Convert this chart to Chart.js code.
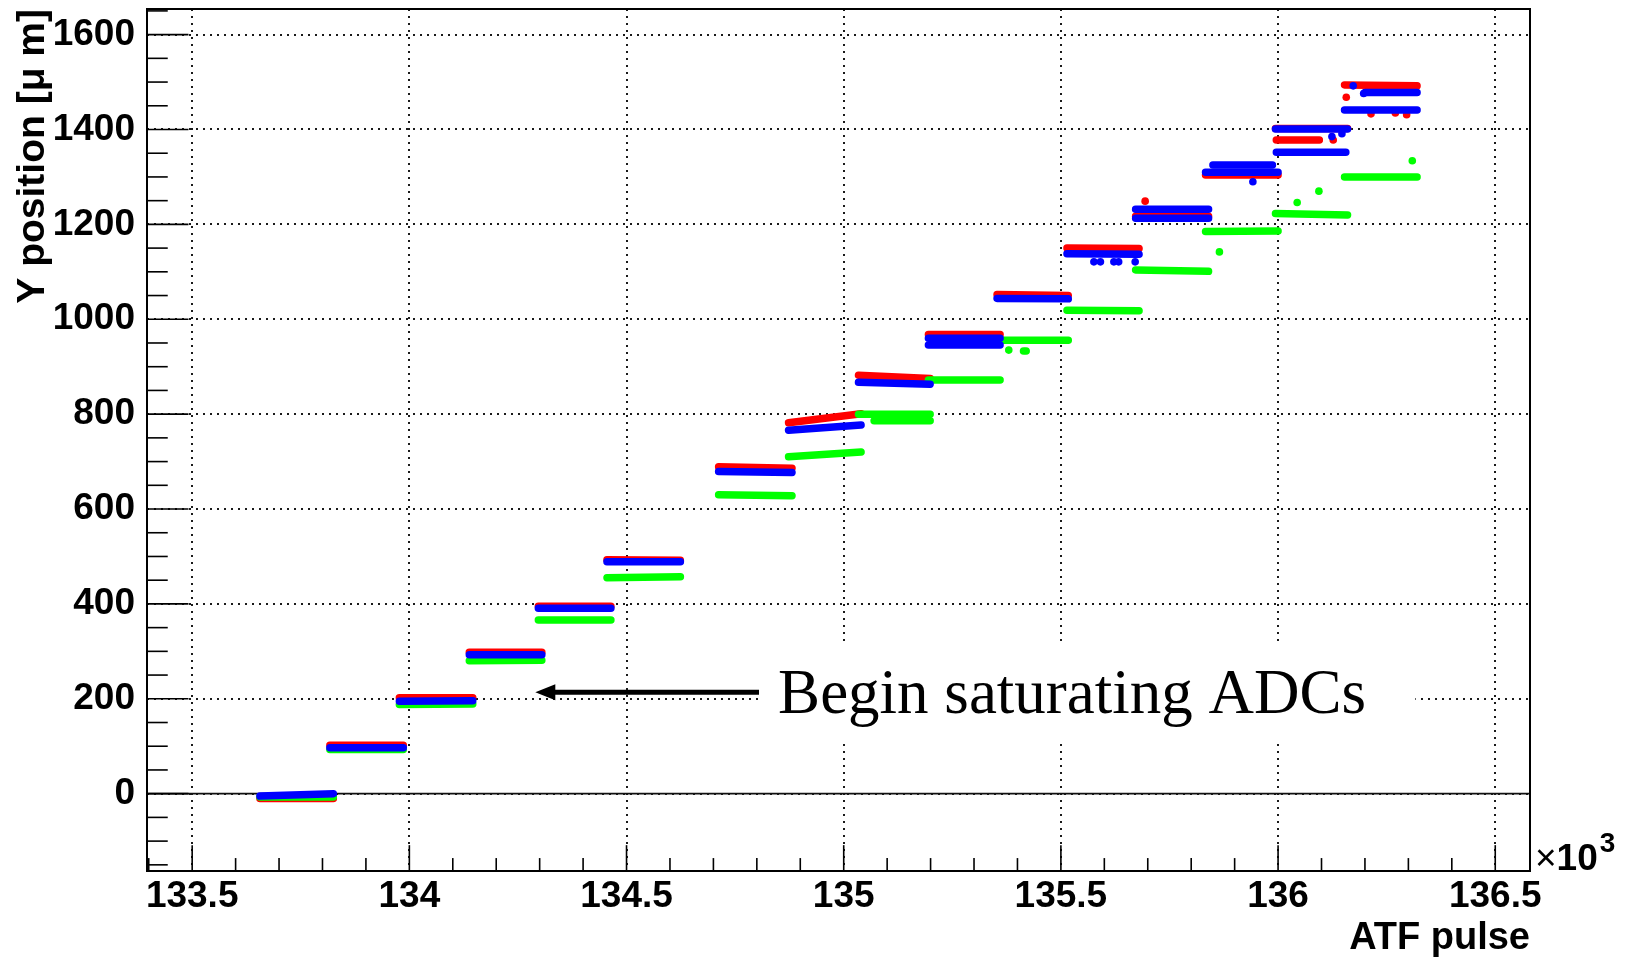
<!DOCTYPE html>
<html>
<head>
<meta charset="utf-8">
<script src="https://cdn.jsdelivr.net/npm/chart.js@4/dist/chart.umd.min.js"></script>
<style>
  html, body { margin: 0; padding: 0; background: #fff; }
  #wrap { width: 1625px; height: 964px; }
</style>
</head>
<body>
<div id="wrap"><canvas id="c" width="1625" height="964"></canvas></div>
<script>
// ---- data (x in units of 10^3 ATF pulses, y in micrometres) ----
const stepStart = [133.656, 133.817, 133.977, 134.138, 134.297, 134.455, 134.712, 134.873, 135.034, 135.195, 135.353, 135.514, 135.672, 135.833, 135.994, 136.153];
const stepEnd   = [133.825, 133.986, 134.146, 134.305, 134.464, 134.624, 134.881, 135.040, 135.199, 135.360, 135.517, 135.680, 135.840, 136.000, 136.160, 136.320];
const blueStart = [133.656, 133.817, 133.977, 134.138, 134.297, 134.455, 134.712, 134.873, 135.034, 135.195, 135.353, 135.514, 135.672, 135.833, 135.994, 136.200];

const redY0   = [-10, 102, 202, 298, 395, 493, 689, 782, 882, 968, 1052, 1150, 1217, 1304, 1402, 1494];
const redY1   = [-10, 102, 202, 298, 395, 492, 686, 801, 875, 968, 1050, 1149, 1217, 1304, 1402, 1492];
const blueY0  = [-5, 97, 195, 293, 391, 489, 679, 766, 867, 960, 1044, 1138, 1213, 1310, 1401, 1478];
const blueY1  = [0, 97, 196, 293, 391, 489, 677, 777, 863, 960, 1043, 1137, 1213, 1310, 1401, 1478];
const greenY0 = [-7, 93, 188, 280, 366, 455, 630, 710, 800, 872, 956, 1019, 1104, 1185, 1223, 1300];
const greenY1 = [-7, 93, 189, 281, 366, 457, 628, 720, 800, 872, 956, 1018, 1101, 1186, 1220, 1300];

// secondary bands
const redSubX0 = [135.996];
const redSubX1 = [136.095];
const redSubY  = [1378];
const blueSubX0 = [135.195, 135.672, 135.850, 135.996, 136.153];
const blueSubX1 = [135.360, 135.840, 135.987, 136.156, 136.320];
const blueSubY  = [946, 1232, 1325, 1352, 1441];
const greenSubX0 = [135.070];
const greenSubX1 = [135.199];
const greenSubY  = [786];

// isolated points
const redOutX = [135.694, 136.127, 136.157, 136.214, 136.270, 136.296];
const redOutY = [1249, 1378, 1468, 1433, 1435, 1431];
const blueOutX = [135.576, 135.591, 135.622, 135.633, 135.671, 135.942, 136.124, 136.147, 136.173, 136.197];
const blueOutY = [1121, 1121, 1121, 1121, 1121, 1290, 1385, 1391, 1492, 1476];
const greenOutX = [135.380, 135.414, 135.420, 135.865, 136.044, 136.094, 136.309];
const greenOutY = [935, 933, 933, 1142, 1246, 1270, 1334];

// axis settings
const xMin = 133.396, xMax = 136.58, xStep = 0.1, xMajor = 0.5;
const yMin = -163, yMax = 1654, yStep = 50, yMajor = 200;

// annotation
const noteText = 'Begin saturating ADCs';
const noteX = 134.849, noteY = 169;
const arrowTipX = 134.290, arrowTailX = 134.805, arrowY = 214;
const boxX0 = 134.803, boxX1 = 136.316, boxY0 = 112, boxY1 = 317;

// ---- build ----
function segments(x0, x1, y0, y1) {
  const pts = [];
  for (let i = 0; i < x0.length; i++) {
    pts.push({x: x0[i], y: y0[i]}, {x: x1[i], y: y1[i]}, {x: x1[i], y: null});
  }
  return pts;
}
function points(xs, ys) { return xs.map((x, i) => ({x: x, y: ys[i]})); }

const RED = '#ff0000', BLUE = '#0000ff', GREEN = '#00ff00';
const BAND = 7.5;
function bandSet(data, color, order) {
  return { data, showLine: true, borderColor: color, backgroundColor: color, borderWidth: BAND,
           borderCapStyle: 'round', borderJoinStyle: 'round', pointRadius: 0, spanGaps: false, order };
}
function dotSet(data, color, order) {
  return { data, showLine: false, backgroundColor: color, borderColor: color, borderWidth: 0,
           pointRadius: 3.8, pointStyle: 'circle', order };
}

const isMultiple = (v, m) => Math.abs(v / m - Math.round(v / m)) < 1e-6;
const FONT = "'Liberation Sans', Arial, Helvetica, sans-serif";

const rootPlugin = {
  id: 'rootStyle',
  beforeDatasetsDraw(chart) {
    const {ctx, chartArea: a, scales: {x, y}} = chart;
    ctx.save();
    // zero line
    const y0 = y.getPixelForValue(0);
    ctx.strokeStyle = '#111'; ctx.lineWidth = 1.6;
    ctx.beginPath(); ctx.moveTo(a.left, y0); ctx.lineTo(a.right, y0); ctx.stroke();
    // inward ticks
    ctx.strokeStyle = '#000'; ctx.lineWidth = 1.6;
    const w = a.right - a.left, h = a.bottom - a.top;
    y.ticks.forEach(t => {
      const p = y.getPixelForValue(t.value);
      const len = isMultiple(t.value, yMajor) ? 0.03 * w : 0.015 * w;
      ctx.beginPath(); ctx.moveTo(a.left, p); ctx.lineTo(a.left + len, p); ctx.stroke();
    });
    x.ticks.forEach(t => {
      const p = x.getPixelForValue(t.value);
      const len = isMultiple(t.value, xMajor) ? 0.03 * h : 0.015 * h;
      ctx.beginPath(); ctx.moveTo(p, a.bottom); ctx.lineTo(p, a.bottom - len); ctx.stroke();
    });
    // frame
    ctx.lineWidth = 2;
    ctx.strokeRect(a.left, a.top, w, h);
    ctx.restore();
  },
  afterDraw(chart) {
    const {ctx, chartArea: a, scales: {x, y}} = chart;
    ctx.save();
    // annotation box
    const bx0 = x.getPixelForValue(boxX0), bx1 = x.getPixelForValue(boxX1);
    const by0 = y.getPixelForValue(boxY1), by1 = y.getPixelForValue(boxY0);
    ctx.fillStyle = '#fff';
    ctx.fillRect(bx0, by0, bx1 - bx0, by1 - by0);
    // arrow
    const tip = x.getPixelForValue(arrowTipX), tail = x.getPixelForValue(arrowTailX), ay = y.getPixelForValue(arrowY);
    ctx.fillStyle = '#000'; ctx.strokeStyle = '#000';
    ctx.lineWidth = 5;
    ctx.beginPath(); ctx.moveTo(tip + 12, ay); ctx.lineTo(tail, ay); ctx.stroke();
    ctx.beginPath(); ctx.moveTo(tip, ay); ctx.lineTo(tip + 20, ay - 8); ctx.lineTo(tip + 20, ay + 8); ctx.closePath(); ctx.fill();
    // text
    ctx.font = "63px 'Liberation Serif', 'Times New Roman', serif";
    ctx.textAlign = 'left'; ctx.textBaseline = 'alphabetic';
    ctx.fillText(noteText, x.getPixelForValue(noteX), y.getPixelForValue(noteY));
    // x10^3
    const bx = a.right + 5, base = a.bottom - 1;
    ctx.font = "37px " + FONT;
    ctx.fillText('\u00d7', bx, base);
    const wx = ctx.measureText('\u00d7').width;
    ctx.font = "bold 37px " + FONT;
    ctx.fillText('10', bx + wx, base);
    const w10 = ctx.measureText('10').width;
    ctx.font = "bold 28px " + FONT;
    ctx.fillText('3', bx + wx + w10 + 2, base - 18);
    ctx.restore();
  }
};

new Chart(document.getElementById('c'), {
  type: 'scatter',
  data: {
    datasets: [
      bandSet(segments(stepStart, stepEnd, redY0, redY1), RED, 6),
      bandSet(segments(redSubX0, redSubX1, redSubY, redSubY), RED, 6),
      dotSet(points(redOutX, redOutY), RED, 5),
      bandSet(segments(stepStart, stepEnd, greenY0, greenY1), GREEN, 4),
      bandSet(segments(greenSubX0, greenSubX1, greenSubY, greenSubY), GREEN, 4),
      dotSet(points(greenOutX, greenOutY), GREEN, 3),
      bandSet(segments(blueStart, stepEnd, blueY0, blueY1), BLUE, 2),
      bandSet(segments(blueSubX0, blueSubX1, blueSubY, blueSubY), BLUE, 2),
      dotSet(points(blueOutX, blueOutY), BLUE, 1)
    ]
  },
  options: {
    responsive: false,
    animation: false,
    devicePixelRatio: 1,
    events: [],
    layout: { padding: { left: 0, right: 95, top: 9, bottom: 0 } },
    plugins: { legend: { display: false }, tooltip: { enabled: false } },
    scales: {
      x: {
        type: 'linear', min: xMin, max: xMax,
        border: { display: false, dash: [2, 5] },
        grid: {
          drawTicks: false, lineWidth: 2,
          color: c => (c.tick && isMultiple(c.tick.value, xMajor)) ? '#1a1a1a' : 'rgba(0,0,0,0)'
        },
        ticks: {
          stepSize: xStep, includeBounds: false, autoSkip: false, maxRotation: 0, padding: 4,
          color: '#000', font: { family: FONT, size: 37, weight: 'bold' },
          callback: v => isMultiple(v, xMajor) ? String(Math.round(v * 10) / 10) : ''
        },
        title: {
          display: true, text: 'ATF pulse', align: 'end', color: '#000',
          font: { family: FONT, size: 38, weight: 'bold' }, padding: { top: 0, bottom: 3 }
        },
        afterFit: s => { s.height = 93; }
      },
      y: {
        type: 'linear', min: yMin, max: yMax,
        border: { display: false, dash: [2, 5] },
        grid: {
          drawTicks: false, lineWidth: 2,
          color: c => (c.tick && isMultiple(c.tick.value, yMajor)) ? '#1a1a1a' : 'rgba(0,0,0,0)'
        },
        ticks: {
          stepSize: yStep, includeBounds: false, autoSkip: false, padding: 12,
          color: '#000', font: { family: FONT, size: 37, weight: 'bold' },
          callback: v => isMultiple(v, yMajor) ? String(v) : ''
        },
        title: {
          display: true, text: 'Y position [\u03bc m]', align: 'end', color: '#000',
          font: { family: FONT, size: 39, weight: 'bold' }, padding: { top: 10, bottom: 0 }
        },
        afterFit: s => { s.width = 147; s.paddingTop = 0; s.paddingBottom = 0; }
      }
    }
  },
  plugins: [rootPlugin]
});
</script>
</body>
</html>
